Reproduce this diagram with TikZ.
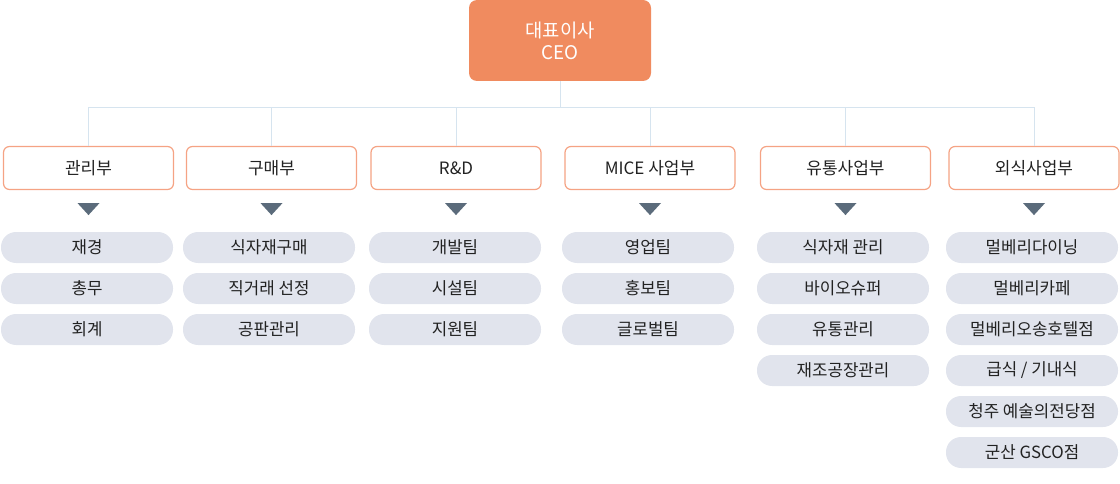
\documentclass[tikz,border=0pt]{standalone}
\usepackage{fontspec}
\setmainfont{Noto Sans CJK KR}
\usetikzlibrary{calc}
\definecolor{ceoC}{HTML}{F08B5F}
\definecolor{deptB}{HTML}{F5A384}
\definecolor{lineC}{HTML}{D6E4EF}
\definecolor{triC}{HTML}{5B6B7B}
\definecolor{pillC}{HTML}{E1E4ED}
\definecolor{txtC}{HTML}{222222}
\begin{document}
\begin{tikzpicture}[x=1pt,y=-1pt,
  ceobox/.style={fill=ceoC,draw=none,rounded corners=8pt,minimum width=182pt,minimum height=81pt,text=white,font=\fontsize{18.8}{22}\selectfont,align=center,inner sep=0pt},
  deptbox/.style={draw=deptB,line width=1.2pt,fill=white,rounded corners=6pt,minimum width=170pt,minimum height=43pt,text=txtC,font=\fontsize{17}{20}\selectfont,inner sep=0pt},
  pill/.style={fill=pillC,draw=none,rounded corners=15pt,minimum width=172pt,minimum height=31pt,text=txtC,font=\fontsize{16.8}{19}\selectfont,inner sep=0pt},
  conn/.style={draw=lineC,line width=1pt},
  tri/.style={fill=triC,draw=none}]
\useasboundingbox (0,0) rectangle (1120,484);
\node[ceobox] (ceo) at (560,40.5) {대표이사\\CEO};
\coordinate (bar) at (560,108);
\foreach \n/\x/\t in {1/88.5/관리부,2/271.5/구매부,3/456/R\&D,4/650/MICE 사업부,5/845.5/유통사업부,6/1034/외식사업부}{
  \node[deptbox] (d\n) at (\x,168) {\t};
}
\draw[conn] (ceo.south) -- (bar);
\foreach \n in {1,...,6}{
  \draw[conn] (bar) -| (d\n.north);
}
\foreach \n in {1,...,6}{
  \fill[tri] ($(d\n.south)+(-11,13)$) -- ($(d\n.south)+(11,13)$) -- ($(d\n.south)+(0,25)$) -- cycle;
}
\foreach \c/\x/\list in {1/87/{재경,총무,회계},2/269/{식자재구매,직거래 선정,공판관리},3/455/{개발팀,시설팀,지원팀},4/648/{영업팀,홍보팀,글로벌팀},5/843/{식자재 관리,바이오슈퍼,유통관리,재조공장관리},6/1032/{멀베리다이닝,멀베리카페,멀베리오송호텔점,급식 / 기내식,청주 예술의전당점,군산 GSCO점}}{
  \foreach \t [count=\k from 0] in \list {
    \node[pill] (p\c-\k) at (\x,247.5+41*\k) {\t};
  }
}
\end{tikzpicture}
\end{document}
